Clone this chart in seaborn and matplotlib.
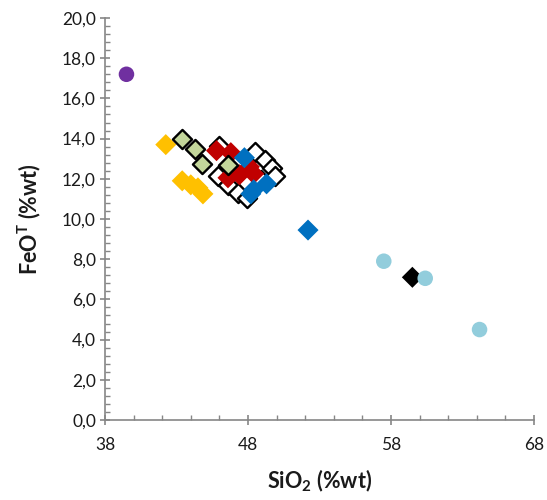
import matplotlib
matplotlib.use("Agg")
import matplotlib.pyplot as plt
from matplotlib.ticker import FixedLocator, MultipleLocator, FuncFormatter
import seaborn as sns
import pandas as pd

# SiO2 / FeOT (wt%) by sample group
open_sio2 = [46.0, 45.9, 46.6, 47.3, 47.9, 48.5, 49.2, 49.7, 49.9, 48.9]
open_feo = [13.65, 12.15, 11.7, 11.3, 11.05, 13.35, 12.95, 12.55, 12.15, 11.95]

yellow_sio2 = [42.25, 43.4, 44.0, 44.5, 44.85]
yellow_feo = [13.7, 11.9, 11.7, 11.55, 11.25]

red_sio2 = [45.8, 46.8, 46.6, 47.4, 48.1, 48.4]
red_feo = [13.4, 13.3, 12.05, 12.2, 12.6, 12.25]

blue_sio2 = [47.75, 48.4, 49.3, 48.2, 52.2]
blue_feo = [13.05, 11.45, 11.75, 11.25, 9.45]

green_sio2 = [43.35, 44.3, 44.75, 46.6]
green_feo = [14.0, 13.5, 12.75, 12.7]

black_sio2 = [59.5]
black_feo = [7.1]

purple_sio2 = [39.5]
purple_feo = [17.2]

cyan_sio2 = [57.5, 60.4, 64.2]
cyan_feo = [7.9, 7.05, 4.5]

x_ticks = [38, 48, 58, 68]

groups = [
    ("open", open_sio2, open_feo, "D", "white", "black", 1.7),
    ("yellow", yellow_sio2, yellow_feo, "D", "#FFC000", "none", 0),
    ("red", red_sio2, red_feo, "D", "#C00000", "none", 0),
    ("blue", blue_sio2, blue_feo, "D", "#0070C0", "none", 0),
    ("green", green_sio2, green_feo, "D", "#C3D69B", "black", 1.7),
    ("black", black_sio2, black_feo, "D", "black", "none", 0),
    ("purple", purple_sio2, purple_feo, "o", "#7030A0", "none", 0),
    ("cyan", cyan_sio2, cyan_feo, "o", "#92CDDC", "none", 0),
]

sns.set_theme(style="white")
plt.rcParams["font.family"] = ["Lato", "DejaVu Sans"]

fig = plt.figure(figsize=(5.47, 5.0), dpi=100)
ax = fig.add_axes([0.192, 0.16, 0.784, 0.804])

for name, xs, ys, marker, face, edge, lw in groups:
    df = pd.DataFrame({"SiO2": xs, "FeOT": ys})
    if marker == "o":
        size = 125
    elif lw > 0:
        size = 95
    else:
        size = 115
    sns.scatterplot(data=df, x="SiO2", y="FeOT", ax=ax, marker=marker,
                    color=face, edgecolor=edge, linewidth=lw, s=size,
                    legend=False, zorder=3)

ax.set_xlim(38, 68)
ax.set_ylim(0, 20)
ax.xaxis.set_major_locator(FixedLocator(x_ticks))
ax.xaxis.set_minor_locator(FixedLocator(list(range(38, 69, 2))))
ax.yaxis.set_major_locator(MultipleLocator(2))
ax.yaxis.set_minor_locator(MultipleLocator(0.4))
ax.yaxis.set_major_formatter(FuncFormatter(lambda v, p: f"{v:.1f}".replace(".", ",")))

grey = "#868686"
for side in ["top", "right"]:
    ax.spines[side].set_visible(False)
for side in ["left", "bottom"]:
    ax.spines[side].set_color(grey)
    ax.spines[side].set_linewidth(1.2)

ax.tick_params(which="major", direction="inout", length=7, width=1.2,
               color=grey, labelsize=12.5, labelcolor="#1a1a1a", pad=3)
ax.tick_params(which="minor", direction="in", length=3.5, width=1.0,
               color=grey)
ax.tick_params(axis="x", which="major", pad=9)
ax.tick_params(axis="both", which="both", bottom=True, left=True)

ax.set_xlabel("SiO$_\\mathregular{2}$ (%wt)", fontsize=15.5, fontweight="bold",
              labelpad=10, color="#1a1a1a")
ax.set_ylabel("FeO$^\\mathregular{T}$ (%wt)", fontsize=15.5, fontweight="bold",
              labelpad=14, color="#1a1a1a")

fig.savefig("out.png", dpi=100)
